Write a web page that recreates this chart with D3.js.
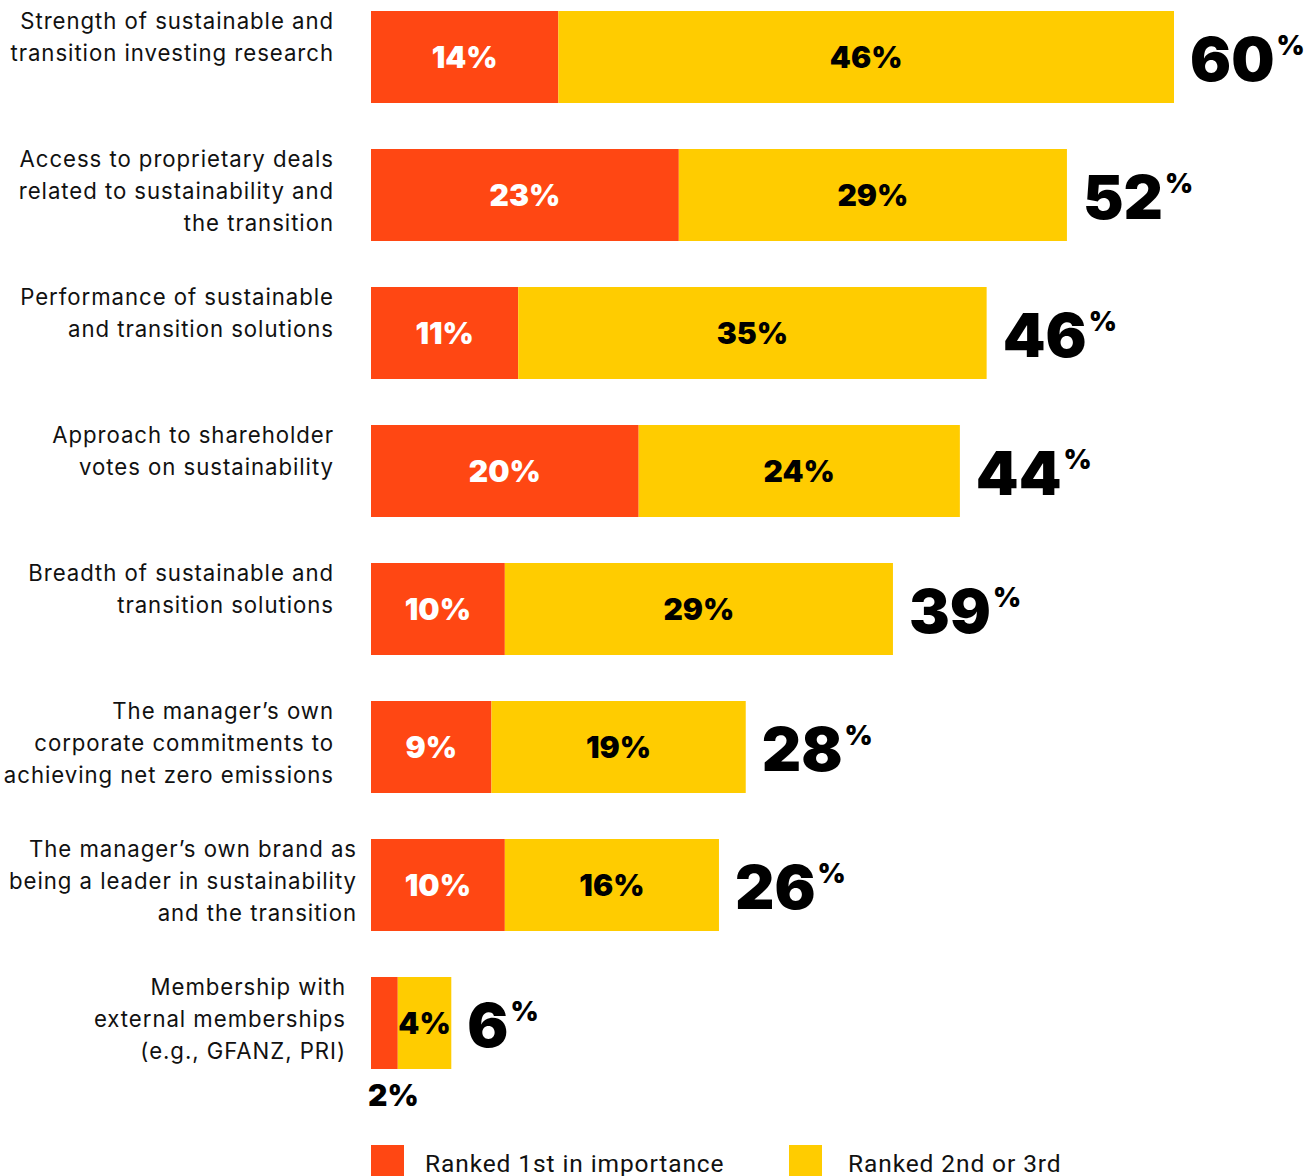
<!DOCTYPE html>
<html>
<head>
<meta charset="utf-8">
<script src="https://cdn.jsdelivr.net/npm/d3@7"></script>
<style>
  html, body { margin: 0; padding: 0; background: #fff; }
  svg { display: block; }
</style>
</head>
<body>
<svg id="chart" width="1308" height="1176"></svg>
<script>
// Factors considered when selecting a manager for sustainable / transition investing
const categories = [
  "Strength of sustainable and transition investing research",
  "Access to proprietary deals related to sustainability and the transition",
  "Performance of sustainable and transition solutions",
  "Approach to shareholder votes on sustainability",
  "Breadth of sustainable and transition solutions",
  "The manager’s own corporate commitments to achieving net zero emissions",
  "The manager’s own brand as being a leader in sustainability and the transition",
  "Membership with external memberships (e.g., GFANZ, PRI)"
];
const categoryLines = [
  ["Strength of sustainable and", "transition investing research"],
  ["Access to proprietary deals", "related to sustainability and", "the transition"],
  ["Performance of sustainable", "and transition solutions"],
  ["Approach to shareholder", "votes on sustainability"],
  ["Breadth of sustainable and", "transition solutions"],
  ["The manager’s own", "corporate commitments to", "achieving net zero emissions"],
  ["The manager’s own brand as", "being a leader in sustainability", "and the transition"],
  ["Membership with", "external memberships", "(e.g., GFANZ, PRI)"]
];
const rankedFirst = [14, 23, 11, 20, 10, 9, 10, 2];
const rankedSecondThird = [46, 29, 35, 24, 29, 19, 16, 4];
const totals = [60, 52, 46, 44, 39, 28, 26, 6];
const seriesNames = ["Ranked 1st in importance", "Ranked 2nd or 3rd"];

const RED = "#FF4713";
const YELLOW = "#FFCC00";
const LABEL_FONT = "Inter, Roboto, 'Noto Sans', sans-serif";
const HEAVY_FONT = "Inter, Lato, 'DejaVu Sans', sans-serif";

const svg = d3.select("#chart");

const x = d3.scaleLinear().domain([0, 60]).range([371, 1174]);
const y = d3.scaleBand()
  .domain(categories)
  .range([11, 1069])
  .paddingInner(1 / 3)
  .paddingOuter(0);

const color = d3.scaleOrdinal().domain(seriesNames).range([RED, YELLOW]);

const rows = categories.map((c, i) => ({
  cat: c,
  lines: categoryLines[i],
  first: rankedFirst[i],
  second: rankedSecondThird[i],
  total: totals[i]
}));

// right edge of each category label block
const labelEdge = [334, 334, 334, 334, 334, 334, 357, 346];

// category labels
const lab = svg.append("g").attr("class", "cat-labels");
rows.forEach((r, i) => {
  const t = lab.append("text")
    .attr("text-anchor", "end")
    .attr("font-family", LABEL_FONT)
    .attr("font-size", 22.2)
    .attr("letter-spacing", 0.95)
    .attr("fill", "#111");
  r.lines.forEach((ln, k) => {
    t.append("tspan")
      .attr("x", labelEdge[i])
      .attr("y", y(r.cat) + 18 + k * 32)
      .text(ln);
  });
});

// stacked segments
const stack = d3.stack().keys(["first", "second"])(rows);
const segs = svg.append("g").attr("class", "bars");
stack.forEach((layer, li) => {
  segs.selectAll(null)
    .data(layer)
    .join("rect")
    .attr("x", d => x(d[0]))
    .attr("y", d => y(d.data.cat))
    .attr("width", d => x(d[1]) - x(d[0]))
    .attr("height", y.bandwidth())
    .attr("fill", color(seriesNames[li]));
});

// value labels inside the segments
const val = svg.append("g").attr("class", "values")
  .attr("font-family", HEAVY_FONT)
  .attr("font-weight", 900)
  .attr("font-size", 30);
stack.forEach((layer, li) => {
  layer.forEach(d => {
    const v = d[1] - d[0];
    const cy = y(d.data.cat) + y.bandwidth() / 2;
    const w = x(d[1]) - x(d[0]);
    if (li === 0 && w < 40) {
      // too narrow: write the value under the bar
      val.append("text")
        .attr("x", x(d[0]) - 3)
        .attr("y", y(d.data.cat) + y.bandwidth() + 37)
        .attr("fill", "#000")
        .text(v + "%");
    } else {
      val.append("text")
        .attr("x", (x(d[0]) + x(d[1])) / 2)
        .attr("y", cy + 11)
        .attr("text-anchor", "middle")
        .attr("fill", li === 0 ? "#fff" : "#000")
        .text(v + "%");
    }
  });
});

// totals at the end of each bar
const tot = svg.append("g").attr("class", "totals")
  .attr("font-family", HEAVY_FONT)
  .attr("font-weight", 900)
  .attr("fill", "#000");
rows.forEach(r => {
  const cy = y(r.cat) + y.bandwidth() / 2;
  const t = tot.append("text")
    .attr("x", x(r.total) + 16)
    .attr("y", cy + 24);
  t.append("tspan").attr("font-size", 61).text(r.total);
  t.append("tspan").attr("font-size", 27).attr("dx", 2).attr("dy", -26).text("%");
});

// legend
const legend = svg.append("g").attr("class", "legend");
const legendX = [371, 789];
seriesNames.forEach((s, i) => {
  legend.append("rect")
    .attr("x", legendX[i]).attr("y", 1145)
    .attr("width", 33).attr("height", 32)
    .attr("fill", color(s));
  legend.append("text")
    .attr("x", legendX[i] + (i === 0 ? 54 : 59))
    .attr("y", 1172)
    .attr("font-family", "Roboto, 'Liberation Sans', sans-serif")
    .attr("font-size", 24.5)
    .attr("letter-spacing", 0.9)
    .attr("fill", "#111")
    .text(s);
});
</script>
</body>
</html>
